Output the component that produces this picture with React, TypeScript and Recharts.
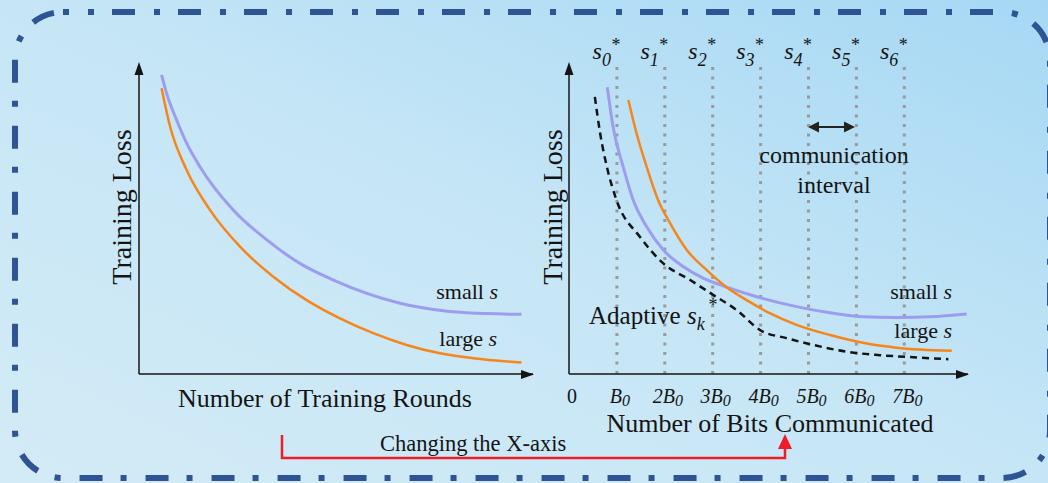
import React from 'react';
import { LineChart, Line, XAxis, YAxis, ReferenceLine } from 'recharts';

// ---------- Left panel: loss vs. training rounds ----------
const leftRoundsSmall = [0.63, 0.77, 1.05, 1.33, 1.7, 2.63, 3.57, 4.49, 5.43, 6.36, 7.29, 8.22, 9.15, 10.68];
const leftLossSmall = [9.68, 9.08, 8.22, 7.47, 6.71, 5.31, 4.34, 3.58, 3.04, 2.61, 2.29, 2.09, 1.98, 1.93];
const leftRoundsLarge = [0.63, 0.87, 1.33, 1.98, 2.82, 3.75, 4.68, 5.61, 6.54, 7.47, 8.4, 9.33, 10.68];
const leftLossLarge = [9.25, 8.0, 6.6, 5.31, 4.12, 3.15, 2.39, 1.8, 1.32, 0.94, 0.67, 0.51, 0.37];

// ---------- Right panel: loss vs. bits communicated (units of B0) ----------
const rightBitsSmall = [0.8, 0.92, 1.13, 1.34, 1.62, 1.97, 2.39, 2.8, 3.29, 3.92, 4.75, 5.45, 6.14, 6.84, 7.54, 8.3];
const rightLossSmall = [9.28, 8.0, 6.71, 5.63, 4.77, 4.01, 3.47, 3.1, 2.81, 2.5, 2.18, 1.98, 1.85, 1.83, 1.85, 1.94];
const rightBitsLarge = [1.24, 1.41, 1.62, 1.86, 2.11, 2.46, 2.87, 3.29, 3.71, 4.2, 4.75, 5.45, 6.14, 6.84, 7.99];
const rightLossLarge = [8.87, 7.79, 6.71, 5.63, 4.88, 4.01, 3.37, 2.81, 2.39, 1.96, 1.59, 1.26, 1.01, 0.85, 0.75];
const rightBitsAdaptive = [0.54, 0.65, 0.79, 0.98, 1.48, 1.97, 2.53, 3.01, 3.5, 3.99, 4.54, 5.1, 5.8, 6.49, 7.19, 7.92];
const rightLossAdaptive = [8.97, 7.79, 6.71, 5.68, 4.44, 3.58, 3.04, 2.56, 2.07, 1.42, 1.16, 0.94, 0.72, 0.61, 0.54, 0.48];

const bitTicks = [0, 1, 2, 3, 4, 5, 6, 7];
const intervalMarks = [1, 2, 3, 4, 5, 6, 7];

const zip = (xs: number[], ys: number[]) => xs.map((x, i) => ({ x, y: ys[i] }));

const FONT = '"Liberation Serif", "Times New Roman", "DejaVu Serif", serif';
const INK = '#141414';
const PURPLE = '#9d9df0';
const ORANGE = '#f6861a';

function STick(props: any) {
  const { x, y, payload } = props;
  const sub = String(payload.value - 1);
  return (
    <g>
      <text x={x - 6} y={y - 6} textAnchor="end" fontFamily={FONT} fontStyle="italic" fontSize={24} fill={INK}>
        s<tspan fontSize={18} dy={7}>{sub}</tspan>
      </text>
      <text x={x - 1} y={y - 14} textAnchor="middle" fontFamily={FONT} fontSize={18} fill={INK}>*</text>
    </g>
  );
}

function BTick(props: any) {
  const { x, y, payload } = props;
  const v = payload.value;
  if (v === 0) {
    return (
      <text x={x + 3} y={y + 29} textAnchor="middle" fontFamily={FONT} fontSize={20} fill={INK}>0</text>
    );
  }
  return (
    <text x={x + 3} y={y + 29} textAnchor="middle" fontFamily={FONT} fontStyle="italic" fontSize={20} fill={INK}>
      {v === 1 ? '' : String(v)}B<tspan fontSize={16} dy={3}>0</tspan>
    </text>
  );
}

const axisStyle = { stroke: INK, strokeWidth: 1.5 };

export default function App() {
  return (
    <div style={{ position: 'relative', width: 1048, height: 483, overflow: 'hidden', fontFamily: FONT }}>
      <style>{`html,body{margin:0;padding:0;overflow:hidden;}`}</style>
      <div
        style={{
          position: 'absolute', left: 0, top: 0, width: 1048, height: 483,
          background: 'linear-gradient(to top right, #d3ebf6 0%, #c6e6f6 50%, #a6d8f4 100%)',
        }}
      />

      {/* Left chart */}
      <div style={{ position: 'absolute', left: 100, top: 0 }}>
        <LineChart width={460} height={420} margin={{ left: 38, right: 27, top: 65, bottom: 45 }}>
          <XAxis type="number" dataKey="x" domain={[0, 11]} ticks={[0]} tick={false} tickLine={false} height={1} axisLine={axisStyle} allowDataOverflow />
          <YAxis type="number" dataKey="y" domain={[0, 10]} ticks={[0]} tick={false} tickLine={false} width={1} axisLine={axisStyle} allowDataOverflow />
          <Line data={zip(leftRoundsSmall, leftLossSmall)} dataKey="y" type="monotone" stroke={PURPLE} strokeWidth={3} dot={false} isAnimationActive={false} />
          <Line data={zip(leftRoundsLarge, leftLossLarge)} dataKey="y" type="monotone" stroke={ORANGE} strokeWidth={2.5} dot={false} isAnimationActive={false} />
        </LineChart>
      </div>

      {/* Right chart */}
      <div style={{ position: 'absolute', left: 530, top: 0 }}>
        <LineChart width={470} height={420} margin={{ left: 38, right: 32, top: 64, bottom: 45 }}>
          <XAxis
            type="number" dataKey="x" domain={[0, 8.33]} ticks={bitTicks} interval={0}
            tick={(p: any) => <BTick {...p} />} tickLine={false} tickSize={0} tickMargin={0}
            height={1} axisLine={axisStyle} allowDataOverflow
          />
          <XAxis
            xAxisId="top" orientation="top" type="number" dataKey="x" domain={[0, 8.33]} ticks={intervalMarks} interval={0}
            tick={(p: any) => <STick {...p} />} tickLine={false} tickSize={0} tickMargin={0}
            height={1} axisLine={false} allowDataOverflow
          />
          <YAxis type="number" dataKey="y" domain={[0, 10]} ticks={[0]} tick={false} tickLine={false} width={1} axisLine={axisStyle} allowDataOverflow />
          {intervalMarks.map((v) => (
            <ReferenceLine key={v} x={v} stroke="#9a9a9a" strokeWidth={3} strokeDasharray="3 6.5" />
          ))}
          <Line data={zip(rightBitsAdaptive, rightLossAdaptive)} dataKey="y" type="monotone" stroke={INK} strokeWidth={2.5} strokeDasharray="7 5" dot={false} isAnimationActive={false} />
          <Line data={zip(rightBitsSmall, rightLossSmall)} dataKey="y" type="monotone" stroke={PURPLE} strokeWidth={3} dot={false} isAnimationActive={false} />
          <Line data={zip(rightBitsLarge, rightLossLarge)} dataKey="y" type="monotone" stroke={ORANGE} strokeWidth={2.5} dot={false} isAnimationActive={false} />
        </LineChart>
      </div>

      {/* Annotations */}
      <svg width={1048} height={483} style={{ position: 'absolute', left: 0, top: 0, pointerEvents: 'none' }}>
        <rect x={15} y={12} width={1035} height={466} rx={48} ry={48} fill="none" stroke="#2e5496" strokeWidth={6}
          strokeDasharray="23 19 6 18" strokeDashoffset={17} />

        {/* axis arrowheads */}
        <polygon points="534,374.5 521,370 521,379" fill={INK} />
        <polygon points="139,62 134.5,75 143.5,75" fill={INK} />
        <polygon points="569,62 564.5,75 573.5,75" fill={INK} />
        <polygon points="969,374.5 956,370 956,379" fill={INK} />

        {/* axis titles */}
        <text x={131} y={207} transform="rotate(-90 131 207)" textAnchor="middle" fontFamily={FONT} fontSize={28} fill={INK}>Training Loss</text>
        <text x={562} y={207} transform="rotate(-90 562 207)" textAnchor="middle" fontFamily={FONT} fontSize={28} fill={INK}>Training Loss</text>
        <text x={325} y={407} textAnchor="middle" fontFamily={FONT} fontSize={26} fill={INK}>Number of Training Rounds</text>
        <text x={770} y={432} textAnchor="middle" fontFamily={FONT} fontSize={26} fill={INK}>Number of Bits Communicated</text>

        {/* curve labels */}
        <text x={498} y={299} textAnchor="end" fontFamily={FONT} fontSize={22} fill={INK}>small <tspan fontStyle="italic">s</tspan></text>
        <text x={497} y={346} textAnchor="end" fontFamily={FONT} fontSize={22} fill={INK}>large <tspan fontStyle="italic">s</tspan></text>
        <text x={952} y={299} textAnchor="end" fontFamily={FONT} fontSize={22} fill={INK}>small <tspan fontStyle="italic">s</tspan></text>
        <text x={952} y={338} textAnchor="end" fontFamily={FONT} fontSize={22} fill={INK}>large <tspan fontStyle="italic">s</tspan></text>
        <text x={589} y={324} fontFamily={FONT} fontSize={25} fill={INK}>
          Adaptive <tspan fontStyle="italic">s</tspan><tspan fontStyle="italic" fontSize={18} dy={6}>k</tspan>
        </text>
        <text x={713} y={311} textAnchor="middle" fontFamily={FONT} fontSize={18} fill={INK}>*</text>

        {/* communication interval */}
        <line x1={815} y1={127} x2={848} y2={127} stroke="#222" strokeWidth={2} />
        <polygon points="808,127 819,121.5 819,132.5" fill="#222" />
        <polygon points="855,127 844,121.5 844,132.5" fill="#222" />
        <text x={834} y={163} textAnchor="middle" fontFamily={FONT} fontSize={24} fill={INK}>communication</text>
        <text x={834} y={193} textAnchor="middle" fontFamily={FONT} fontSize={24} fill={INK}>interval</text>

        {/* red arrow */}
        <polyline points="282,435 282,458 785,458 785,447" fill="none" stroke="#ee1c24" strokeWidth={2.5} />
        <polygon points="785,434 778,449 792,449" fill="#ee1c24" />
        <text x={380} y={451} fontFamily={FONT} fontSize={22.5} fill={INK}>Changing the X-axis</text>
      </svg>
    </div>
  );
}
